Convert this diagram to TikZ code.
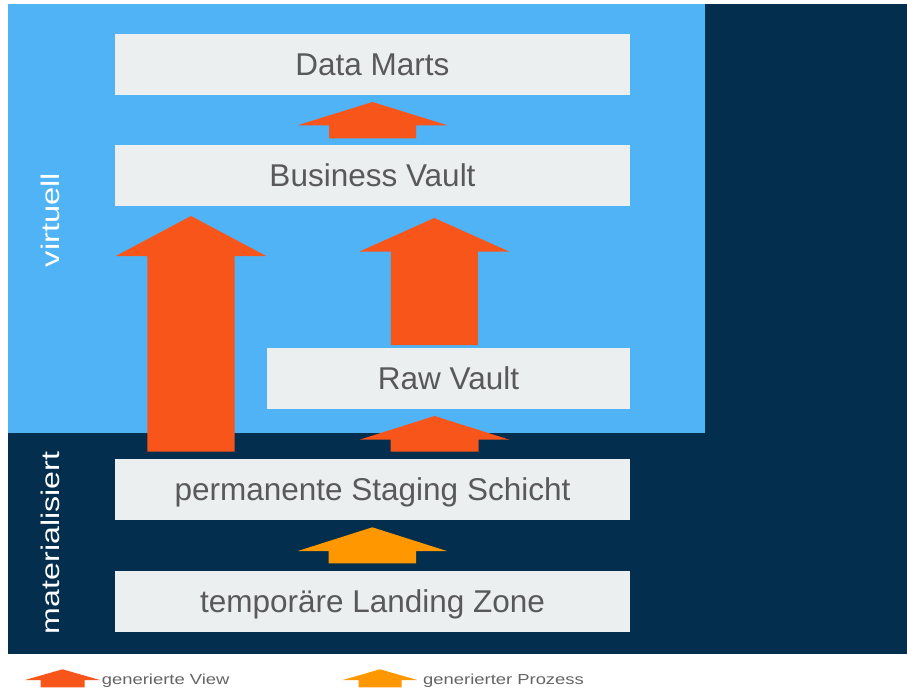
\documentclass[tikz,border=0pt]{standalone}
\usepackage{fontspec}
\setmainfont{Liberation Sans}
\definecolor{skyb}{RGB}{79,179,246}
\definecolor{navy}{RGB}{3,46,77}
\definecolor{boxg}{RGB}{235,239,240}
\definecolor{txtg}{RGB}{89,89,89}
\definecolor{legg}{RGB}{100,100,100}
\definecolor{redor}{RGB}{248,85,26}
\definecolor{amber}{RGB}{255,152,0}
% #1 colour, #2 centre x, #3 tip y, #4 head base y, #5 head half width, #6 shaft half width, #7 bottom y
\newcommand\blockup[7]{\fill[#1] (#2,#3) -- ({#2+#5},#4) -- ({#2+#6},#4) -- ({#2+#6},#7) -- ({#2-#6},#7) -- ({#2-#6},#4) -- ({#2-#5},#4) -- cycle;}
\tikzset{
  layer/.style={fill=boxg, text=txtg, font=\fontsize{31.5}{36}\selectfont,
    minimum height=61pt, text height=22.5pt, text depth=0pt, inner sep=0pt, anchor=center},
  sidelabel/.style={text=white, font=\fontsize{25.5}{30}\selectfont, rotate=90, anchor=base, inner sep=0pt},
  legtext/.style={text=legg, font=\fontsize{14.5}{17}\selectfont, anchor=base west, inner sep=0pt}
}
\begin{document}
\begin{tikzpicture}[x=1pt,y=-1pt]
\useasboundingbox (0,0) rectangle (907,690);
\fill[white] (0,0) rectangle (907,690);
\fill[navy] (8,4) rectangle (907,653.5);
\fill[skyb] (8,4) rectangle (705,433);

\node[layer, minimum width=515pt] (dm) at (372.5,64.5) {Data Marts};
\node[layer, minimum width=515pt] (bv) at (372.5,175.5) {Business Vault};
\node[layer, minimum width=363pt] (rv) at (448.5,378.4) {Raw Vault};
\node[layer, minimum width=515pt] (psa) at (372.5,489.2) {permanente Staging Schicht};
\node[layer, minimum width=515pt] (lz) at (372.5,601.2) {temporäre Landing Zone};

\node[sidelabel] (virt) at (59,220) {\scalebox{1.28}[1]{virtuell}};
\node[sidelabel] (mat) at (59.3,543) {\scalebox{1.26}[1]{materialisiert}};

% block arrows
\blockup{redor}{372.5}{102}{125.3}{75}{43.5}{138.3}
\blockup{redor}{191}{216}{256}{75.2}{43.7}{451.7}
\blockup{redor}{434.3}{218}{251.7}{75.2}{43.5}{345}
\blockup{redor}{434.5}{416}{439.7}{75}{44}{451.7}
\blockup{amber}{372.3}{527.3}{551}{74.5}{43.8}{563.3}

% legend
\blockup{redor}{62.5}{669.3}{680}{37.5}{22}{687.3}
\node[legtext] (lv) at (101.7,684.5) {\scalebox{1.27}[1]{generierte View}};
\blockup{amber}{380}{669.3}{680}{37.3}{21.5}{687.3}
\node[legtext] (lp) at (423,684.5) {\scalebox{1.27}[1]{generierter Prozess}};
\end{tikzpicture}
\end{document}
